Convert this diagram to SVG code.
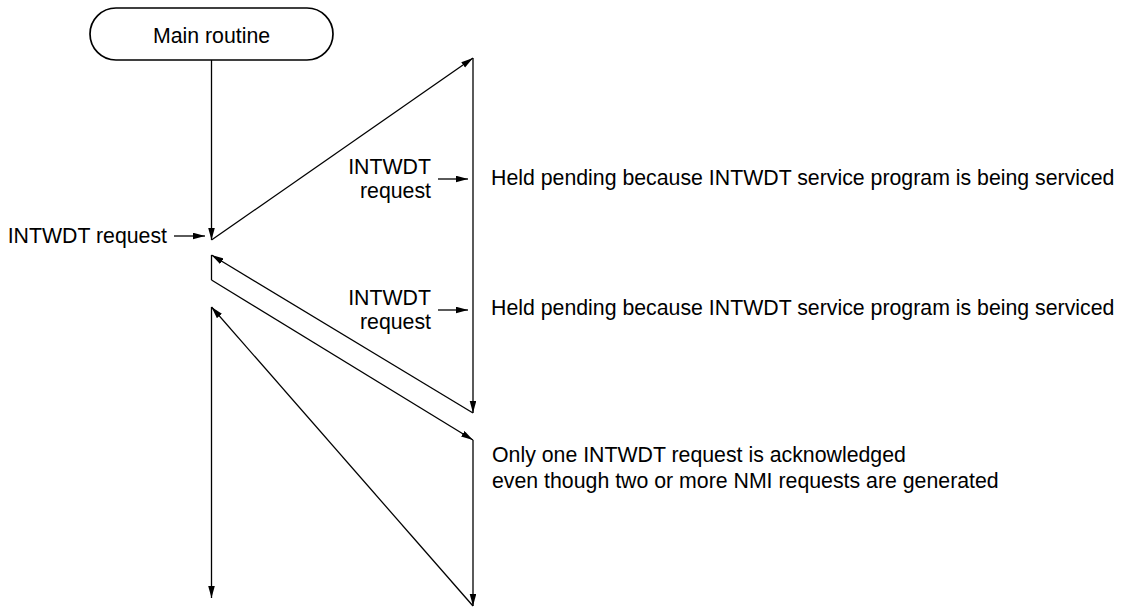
<svg xmlns="http://www.w3.org/2000/svg" width="1122" height="608" viewBox="0 0 1122 608">
<style>
text{font-family:"Liberation Sans",Arial,Helvetica,sans-serif;font-size:21.3px;fill:#000}
.ln{fill:none;stroke:#000;stroke-width:1.3}
.box{fill:#fff;stroke:#000;stroke-width:1.7}
</style>
<defs>
<marker id="ah" markerUnits="userSpaceOnUse" markerWidth="12" markerHeight="7" refX="12" refY="3.3" orient="auto">
<path d="M0,0 L12,3.3 L0,6.6 z" fill="#000"/>
</marker>
</defs>
<rect width="1122" height="608" fill="#fff"/>
<g id="main-routine">
<rect class="box" x="90" y="8" width="243" height="52" rx="26" ry="26"/>
<text x="211.5" y="43" text-anchor="middle">Main routine</text>
</g>
<g id="connectors">
<line class="ln" x1="211.5" y1="60" x2="211.5" y2="240" marker-end="url(#ah)"/>
<line class="ln" x1="211.5" y1="240" x2="473" y2="58" marker-end="url(#ah)"/>
<line class="ln" x1="473" y1="58" x2="473" y2="413" marker-end="url(#ah)"/>
<line class="ln" x1="473" y1="413" x2="211.5" y2="255" marker-end="url(#ah)"/>
<line class="ln" x1="211.5" y1="255" x2="211.5" y2="280"/>
<line class="ln" x1="211.5" y1="280" x2="473" y2="440" marker-end="url(#ah)"/>
<line class="ln" x1="473" y1="440" x2="473" y2="606" marker-end="url(#ah)"/>
<line class="ln" x1="473" y1="606" x2="211.5" y2="307" marker-end="url(#ah)"/>
<line class="ln" x1="211.5" y1="307" x2="211.5" y2="598" marker-end="url(#ah)"/>
<line class="ln" x1="174" y1="236" x2="205" y2="236" marker-end="url(#ah)"/>
<line class="ln" x1="438" y1="179" x2="468" y2="179" marker-end="url(#ah)"/>
<line class="ln" x1="438" y1="310" x2="468" y2="310" marker-end="url(#ah)"/>
</g>
<g id="label-left">
<text x="167" y="243" text-anchor="end">INTWDT request</text>
</g>
<g id="label-req1">
<text x="431" y="174" text-anchor="end">INTWDT</text>
<text x="431" y="198" text-anchor="end">request</text>
</g>
<g id="label-req2">
<text x="431" y="305" text-anchor="end">INTWDT</text>
<text x="431" y="329" text-anchor="end">request</text>
</g>
<g id="note1">
<text x="491" y="185">Held pending because INTWDT service program is being serviced</text>
</g>
<g id="note2">
<text x="491" y="315">Held pending because INTWDT service program is being serviced</text>
</g>
<g id="note3">
<text x="492" y="462">Only one INTWDT request is acknowledged</text>
<text x="492" y="488">even though two or more NMI requests are generated</text>
</g>
</svg>
